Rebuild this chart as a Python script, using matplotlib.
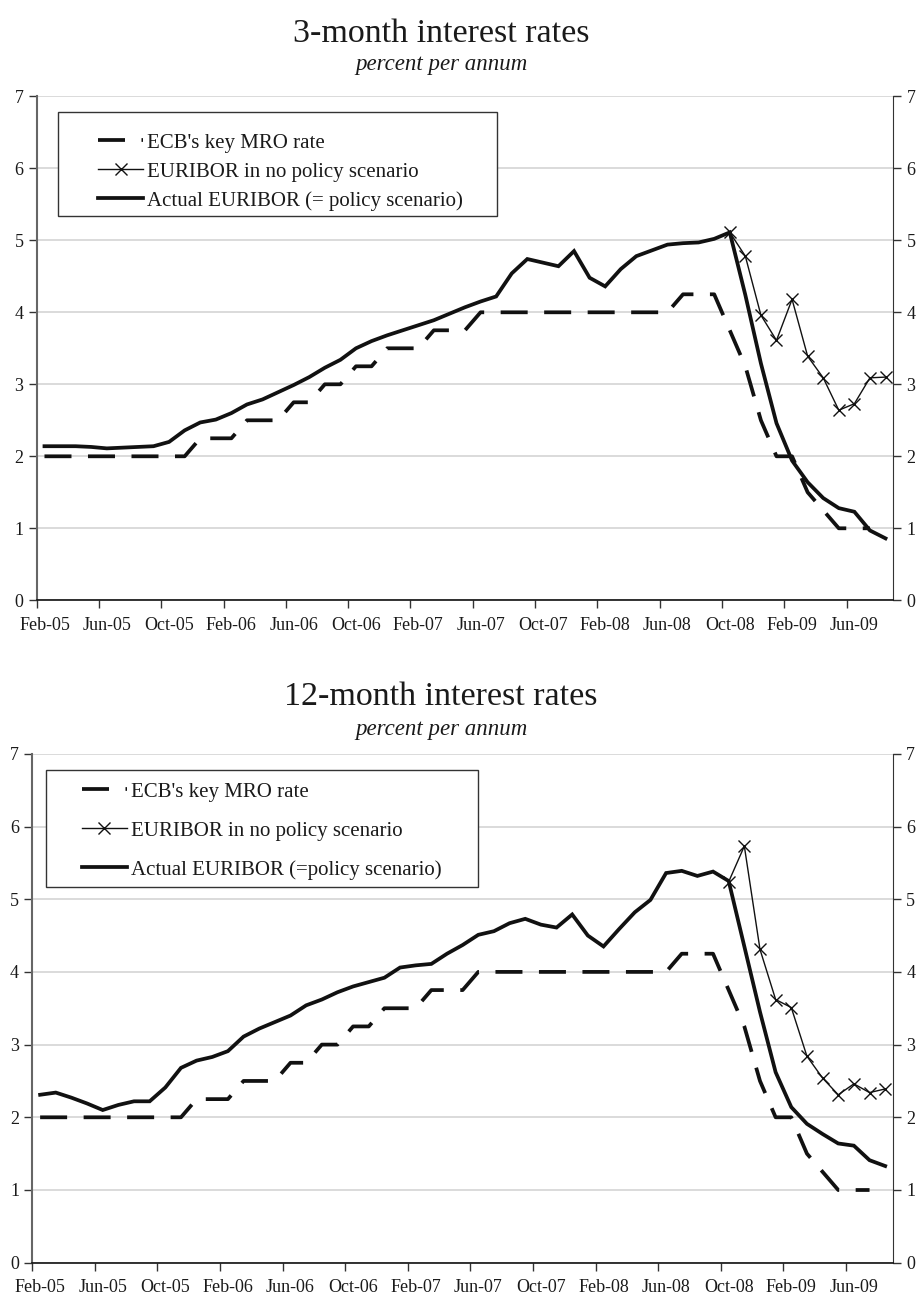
import numpy as np
import matplotlib.pyplot as plt
from matplotlib.patches import Rectangle
from matplotlib.lines import Line2D

plt.rcParams['font.family'] = ['Liberation Serif', 'DejaVu Serif']

W, H = 916, 1299

# monthly data, Feb-05 .. Aug-09 (55 months)
tick_labels = ['Feb-05', 'Jun-05', 'Oct-05', 'Feb-06', 'Jun-06', 'Oct-06', 'Feb-07',
               'Jun-07', 'Oct-07', 'Feb-08', 'Jun-08', 'Oct-08', 'Feb-09', 'Jun-09']

mro_rate = [2.00, 2.00, 2.00, 2.00, 2.00, 2.00, 2.00, 2.00, 2.00, 2.00, 2.25,
            2.25, 2.25, 2.50, 2.50, 2.50, 2.75, 2.75, 3.00, 3.00, 3.25, 3.25, 3.50,
            3.50, 3.50, 3.75, 3.75, 3.75, 4.00, 4.00, 4.00, 4.00, 4.00, 4.00, 4.00,
            4.00, 4.00, 4.00, 4.00, 4.00, 4.00, 4.25, 4.25, 4.25, 3.75, 3.25, 2.50,
            2.00, 2.00, 1.50, 1.25, 1.00, 1.00, 1.00, np.nan]

euribor3_actual = [2.14, 2.14, 2.14, 2.13, 2.11, 2.12, 2.13, 2.14, 2.20, 2.36, 2.47,
                   2.51, 2.60, 2.72, 2.79, 2.89, 2.99, 3.10, 3.23, 3.34, 3.50, 3.60, 3.68,
                   3.75, 3.82, 3.89, 3.98, 4.07, 4.15, 4.22, 4.54, 4.74, 4.69, 4.64, 4.85,
                   4.48, 4.36, 4.60, 4.78, 4.86, 4.94, 4.96, 4.97, 5.02, 5.11, 4.24, 3.29,
                   2.46, 1.94, 1.64, 1.42, 1.28, 1.23, 0.97, 0.86]

euribor12_actual = [2.31, 2.34, 2.27, 2.19, 2.10, 2.17, 2.22, 2.22, 2.41, 2.68, 2.78,
                    2.83, 2.91, 3.11, 3.22, 3.31, 3.40, 3.54, 3.62, 3.72, 3.80, 3.86, 3.92,
                    4.06, 4.09, 4.11, 4.25, 4.37, 4.51, 4.56, 4.67, 4.73, 4.65, 4.61, 4.79,
                    4.50, 4.35, 4.59, 4.82, 4.99, 5.36, 5.39, 5.32, 5.38, 5.25, 4.35, 3.45,
                    2.62, 2.14, 1.91, 1.77, 1.64, 1.61, 1.41, 1.33]

# no policy scenario starts Oct-08 (month index 44)
nopolicy_start = 44
euribor3_nopolicy = [5.11, 4.78, 3.96, 3.61, 4.18, 3.39, 3.09, 2.64, 2.73, 3.09, 3.10]
euribor12_nopolicy = [5.24, 5.73, 4.31, 3.62, 3.51, 2.84, 2.54, 2.31, 2.46, 2.34, 2.39]

n_months = len(euribor3_actual)
x = np.arange(n_months) + 0.5

TXT = '#1a1a1a'


def fx(px):
    return px / W


def fy(py):
    return 1 - py / H


def panel(fig, left, right, top, bottom, title, title_y, sub_y,
          actual, nopolicy, actual_label, lbox, handle_x, handle_y, spacing):
    ax = fig.add_axes([fx(left), fy(bottom), fx(right - left), (bottom - top) / H])

    nopol = np.full(n_months, np.nan)
    nopol[nopolicy_start:nopolicy_start + len(nopolicy)] = nopolicy

    ax.plot(x, actual, color='#111111', lw=2.7, solid_joinstyle='miter', zorder=2)
    ax.plot(x, nopol, color='#111111', lw=1.0, marker='x', ms=8, mew=1.0, zorder=2)
    ax.plot(x, mro_rate, color='#111111', lw=2.7, dashes=(7.2, 4.4),
            dash_capstyle='butt', zorder=2)

    ax.set_xlim(0, n_months)
    ax.set_ylim(0, 7)
    ax.set_yticks(range(0, 8))
    ax.grid(axis='y', color='#d4d4d4', lw=1.2)
    ax.set_axisbelow(True)

    # tick marks between categories, labels centred on the months
    ax.set_xticks(np.arange(0, 53, 4))
    ax.set_xticklabels([])
    ax.set_xticks(np.arange(0.5, 53, 4), minor=True)
    ax.set_xticklabels(tick_labels, minor=True)
    ax.tick_params(axis='x', which='major', length=6, width=1, direction='out', color='#333333')
    ax.tick_params(axis='x', which='minor', length=0, pad=12, labelsize=13, labelcolor=TXT)
    ax.tick_params(axis='y', length=6, width=1, direction='out', left=True, right=True,
                   labelleft=True, labelright=True, labelsize=13, labelcolor=TXT,
                   pad=3.5, color='#333333')

    ax.spines['top'].set_visible(False)
    ax.spines['left'].set_color('#666666')
    ax.spines['left'].set_linewidth(1.5)
    ax.spines['right'].set_color('#333333')
    ax.spines['bottom'].set_color('#111111')
    ax.spines['bottom'].set_linewidth(1.2)

    fig.text(fx(441), fy(title_y), title, ha='center', va='baseline',
             fontsize=24.5, color=TXT)
    fig.text(fx(441), fy(sub_y), 'percent per annum', ha='center', va='baseline',
             fontsize=16.5, style='italic', color=TXT)

    # legend frame
    bx0, by0, bx1, by1 = lbox
    ax.add_artist(Rectangle((fx(bx0), fy(by1)), fx(bx1 - bx0), (by1 - by0) / H,
                            transform=fig.transFigure, facecolor='white',
                            edgecolor='#333333', lw=1.0, zorder=3))
    handles = [
        Line2D([], [], color='#111111', lw=2.7, dashes=(7.2, 4.4), dash_capstyle='butt'),
        Line2D([], [], color='#111111', lw=1.0, marker='x', ms=8, mew=1.0),
        Line2D([], [], color='#111111', lw=2.7),
    ]
    labels = ["ECB's key MRO rate", 'EURIBOR in no policy scenario', actual_label]
    ax.legend(handles, labels, loc='upper left', bbox_to_anchor=(fx(handle_x), fy(handle_y)),
              bbox_transform=fig.transFigure, frameon=False, borderpad=0,
              borderaxespad=0, handlelength=2.17, handletextpad=0.2,
              labelspacing=spacing, fontsize=15, labelcolor=TXT, numpoints=1)
    return ax


fig = plt.figure(figsize=(W / 100, H / 100), dpi=100)

panel(fig, 36.7, 893.3, 96.3, 600.3, '3-month interest rates', 41.7, 70,
      euribor3_actual, euribor3_nopolicy, 'Actual EURIBOR (= policy scenario)',
      (58.3, 112.3, 496.7, 215.7), 98, 133, 0.45)

panel(fig, 32.3, 893.0, 753.8, 1262.7, '12-month interest rates', 705, 735,
      euribor12_actual, euribor12_nopolicy, 'Actual EURIBOR (=policy scenario)',
      (45.7, 770, 478.3, 887), 81.7, 782, 0.93)

fig.savefig('out.png', dpi=100)
